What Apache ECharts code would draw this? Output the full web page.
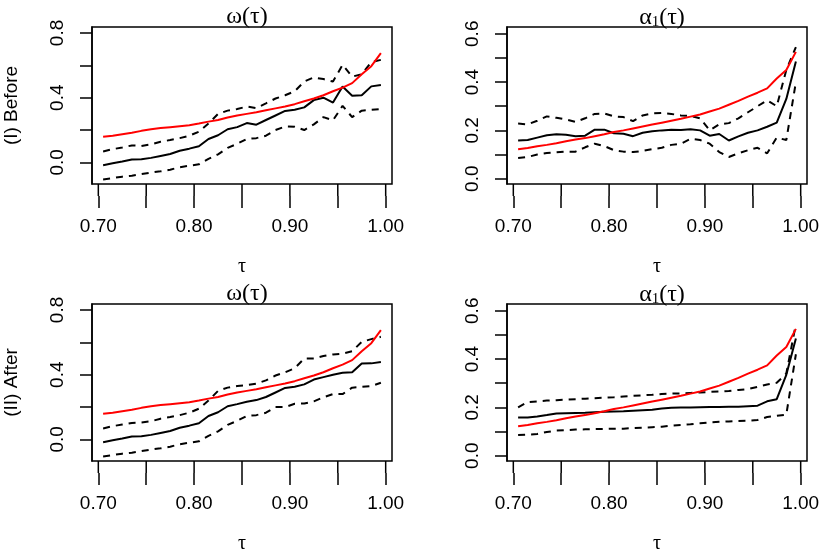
<!DOCTYPE html>
<html>
<head>
<meta charset="utf-8">
<script src="https://cdn.jsdelivr.net/npm/echarts@6.0.0/dist/echarts.min.js"></script>
<style>
  html, body { margin: 0; padding: 0; background: #fff; }
  #main { width: 830px; height: 554px; }
</style>
</head>
<body>
<div id="main"></div>
<script>
// quantile levels
var tau = [0.705, 0.715, 0.725, 0.735, 0.745, 0.755, 0.765, 0.775, 0.785, 0.795,
           0.805, 0.815, 0.825, 0.835, 0.845, 0.855, 0.865, 0.875, 0.885, 0.895,
           0.905, 0.915, 0.925, 0.935, 0.945, 0.955, 0.965, 0.975, 0.985, 0.995];

var xTicks = [0.70, 0.75, 0.80, 0.85, 0.90, 0.95, 1.00];
var xLabels = [0.70, 0.80, 0.90, 1.00];
var omegaTicks = [0, 0.2, 0.4, 0.6, 0.8];
var omegaLabels = [0, 0.4, 0.8];
var alphaTicks = [0, 0.1, 0.2, 0.3, 0.4, 0.5, 0.6];
var alphaLabels = [0, 0.2, 0.4, 0.6];

// omega(tau): red reference curve (same in both rows)
var omegaRef = [0.158, 0.165, 0.174, 0.183, 0.195, 0.205, 0.212, 0.218, 0.224, 0.230,
                0.240, 0.252, 0.262, 0.277, 0.290, 0.300, 0.310, 0.322, 0.334, 0.346,
                0.360, 0.378, 0.395, 0.415, 0.440, 0.462, 0.490, 0.545, 0.595, 0.675];

// (I) Before
var omegaBefore = [-0.017, -0.005, 0.005, 0.018, 0.020, 0.028, 0.040, 0.052, 0.072, 0.085,
                   0.100, 0.145, 0.168, 0.205, 0.218, 0.243, 0.233, 0.262, 0.290, 0.318,
                   0.325, 0.340, 0.385, 0.400, 0.370, 0.469, 0.412, 0.415, 0.470, 0.478];
var omegaBeforeUp = [0.068, 0.082, 0.092, 0.105, 0.102, 0.112, 0.128, 0.138, 0.150, 0.165,
                     0.190, 0.240, 0.300, 0.320, 0.330, 0.345, 0.336, 0.365, 0.395, 0.415,
                     0.440, 0.500, 0.525, 0.515, 0.500, 0.603, 0.530, 0.545, 0.620, 0.634];
var omegaBeforeLo = [-0.105, -0.097, -0.088, -0.082, -0.072, -0.063, -0.055, -0.045, -0.030, -0.020,
                     -0.012, 0.022, 0.050, 0.090, 0.115, 0.145, 0.150, 0.165, 0.200, 0.222,
                     0.220, 0.200, 0.235, 0.280, 0.260, 0.350, 0.280, 0.320, 0.325, 0.330];

// (II) After
var omegaAfter = [-0.017, -0.005, 0.005, 0.018, 0.020, 0.028, 0.040, 0.052, 0.072, 0.085,
                  0.100, 0.145, 0.168, 0.205, 0.218, 0.233, 0.243, 0.262, 0.290, 0.318,
                  0.325, 0.340, 0.370, 0.385, 0.400, 0.412, 0.415, 0.469, 0.470, 0.478];
var omegaAfterUp = [0.068, 0.082, 0.092, 0.102, 0.105, 0.112, 0.128, 0.138, 0.150, 0.165,
                    0.190, 0.240, 0.300, 0.320, 0.330, 0.336, 0.345, 0.365, 0.395, 0.415,
                    0.440, 0.500, 0.500, 0.515, 0.525, 0.530, 0.545, 0.603, 0.620, 0.634];
var omegaAfterLo = [-0.105, -0.097, -0.088, -0.082, -0.072, -0.063, -0.055, -0.045, -0.030, -0.020,
                    -0.012, 0.022, 0.050, 0.090, 0.115, 0.145, 0.150, 0.165, 0.200, 0.200,
                    0.220, 0.222, 0.235, 0.260, 0.280, 0.280, 0.320, 0.325, 0.330, 0.350];

// alpha1(tau): red reference curve
var alphaRef = [0.122, 0.127, 0.134, 0.140, 0.147, 0.155, 0.162, 0.168, 0.176, 0.184,
                0.193, 0.200, 0.208, 0.216, 0.224, 0.232, 0.240, 0.248, 0.257, 0.266,
                0.278, 0.290, 0.306, 0.322, 0.340, 0.356, 0.374, 0.415, 0.450, 0.525];

var alphaBefore = [0.158, 0.160, 0.170, 0.180, 0.184, 0.182, 0.176, 0.178, 0.203, 0.203,
                   0.188, 0.186, 0.176, 0.190, 0.196, 0.200, 0.203, 0.202, 0.205, 0.200,
                   0.178, 0.185, 0.158, 0.175, 0.190, 0.200, 0.215, 0.232, 0.330, 0.485];
var alphaBeforeUp = [0.228, 0.225, 0.240, 0.258, 0.252, 0.245, 0.235, 0.250, 0.268, 0.270,
                     0.258, 0.255, 0.238, 0.262, 0.270, 0.272, 0.268, 0.262, 0.260, 0.250,
                     0.200, 0.225, 0.230, 0.250, 0.275, 0.300, 0.325, 0.300, 0.450, 0.545];
var alphaBeforeLo = [0.086, 0.090, 0.100, 0.106, 0.109, 0.112, 0.112, 0.130, 0.145, 0.135,
                     0.118, 0.112, 0.110, 0.115, 0.122, 0.128, 0.140, 0.145, 0.165, 0.160,
                     0.145, 0.110, 0.090, 0.105, 0.118, 0.128, 0.105, 0.170, 0.160, 0.400];

var alphaAfter = [0.158, 0.158, 0.162, 0.168, 0.175, 0.176, 0.177, 0.178, 0.180, 0.182,
                  0.183, 0.184, 0.186, 0.188, 0.190, 0.195, 0.198, 0.200, 0.200, 0.201,
                  0.202, 0.202, 0.203, 0.203, 0.205, 0.207, 0.225, 0.234, 0.335, 0.485];
var alphaAfterUp = [0.200, 0.222, 0.225, 0.228, 0.230, 0.232, 0.234, 0.236, 0.238, 0.240,
                    0.242, 0.245, 0.248, 0.250, 0.252, 0.255, 0.257, 0.258, 0.260, 0.262,
                    0.264, 0.266, 0.268, 0.272, 0.276, 0.285, 0.295, 0.302, 0.340, 0.545];
var alphaAfterLo = [0.086, 0.087, 0.090, 0.098, 0.104, 0.106, 0.108, 0.109, 0.110, 0.111,
                    0.112, 0.112, 0.114, 0.116, 0.118, 0.120, 0.124, 0.127, 0.130, 0.134,
                    0.138, 0.140, 0.142, 0.144, 0.145, 0.148, 0.160, 0.165, 0.170, 0.420];

function pairs(values) {
  return tau.map(function (t, i) { return [t, values[i]]; });
}

var sansFont = '"Liberation Sans", Arial, sans-serif';
var serifFont = '"Liberation Serif", "DejaVu Serif", serif';
var X_MIN = 0.6934, X_MAX = 1.0066;

// panel layout: two rows, two columns
var panels = [
  { left: 92,  top: 27,  yMin: -0.1335, yMax: 0.837, ticks: omegaTicks, labels: omegaLabels,
    title: 'omega', row: '(I) Before', est: omegaBefore, up: omegaBeforeUp, lo: omegaBeforeLo, ref: omegaRef },
  { left: 507, top: 27,  yMin: -0.022, yMax: 0.628, ticks: alphaTicks, labels: alphaLabels,
    title: 'alpha', row: '', est: alphaBefore, up: alphaBeforeUp, lo: alphaBeforeLo, ref: alphaRef },
  { left: 92,  top: 304, yMin: -0.1335, yMax: 0.837, ticks: omegaTicks, labels: omegaLabels,
    title: 'omega', row: '(II) After', est: omegaAfter, up: omegaAfterUp, lo: omegaAfterLo, ref: omegaRef },
  { left: 507, top: 304, yMin: -0.022, yMax: 0.628, ticks: alphaTicks, labels: alphaLabels,
    title: 'alpha', row: '', est: alphaAfter, up: alphaAfterUp, lo: alphaAfterLo, ref: alphaRef }
];

var W = 300, H = 157, TICK_LEN = 12;
var grids = [], xAxes = [], yAxes = [], series = [], titles = [], texts = [];
var axisStroke = { color: '#000', width: 1.5 };
var n = panels.length;

panels.forEach(function (p, i) {
  // data grid: box, y axis, lines
  grids.push({
    left: p.left, top: p.top, width: W, height: H,
    show: true, borderColor: '#000', borderWidth: 1.5,
    outerBoundsMode: 'none', containLabel: false
  });
  xAxes.push({
    type: 'value', gridIndex: i, min: X_MIN, max: X_MAX,
    axisLine: { show: false, onZero: false },
    axisTick: { show: false }, axisLabel: { show: false }, splitLine: { show: false }
  });
  yAxes.push({
    type: 'value', gridIndex: i, min: p.yMin, max: p.yMax, position: 'left',
    axisLine: { show: true, onZero: false, lineStyle: axisStroke },
    axisTick: { show: true, length: TICK_LEN, customValues: p.ticks, lineStyle: axisStroke },
    axisLabel: {
      customValues: p.labels, rotate: 90, margin: 25, color: '#000', fontFamily: sansFont, fontSize: 19,
      formatter: function (v) { return v.toFixed(1); }
    },
    splitLine: { show: false }
  });

  titles.push({
    text: p.title === 'omega' ? '{a|ω(τ)}' : '{a|α}{s|1}{a|(τ)}',
    left: p.left + W / 2, top: p.top - 27, textAlign: 'center',
    textStyle: {
      fontWeight: 'normal',
      rich: {
        a: { fontFamily: serifFont, fontSize: 24, fontWeight: 'normal', color: '#000', verticalAlign: 'bottom' },
        s: { fontFamily: serifFont, fontSize: 15, fontWeight: 'normal', color: '#000', padding: [10, 0, 0, 0], verticalAlign: 'bottom' }
      }
    }
  });

  if (p.row) {
    texts.push({
      type: 'text', x: 12, y: p.top + H / 2, rotation: Math.PI / 2,
      style: { text: p.row, font: '19px ' + sansFont, fill: '#000', align: 'center', verticalAlign: 'middle' }
    });
  }

  var base = { type: 'line', xAxisIndex: i, yAxisIndex: i, showSymbol: false, silent: true };
  series.push(Object.assign({}, base, { data: pairs(p.up), lineStyle: { color: '#000', width: 2, type: [7, 6] } }));
  series.push(Object.assign({}, base, { data: pairs(p.lo), lineStyle: { color: '#000', width: 2, type: [7, 6] } }));
  series.push(Object.assign({}, base, { data: pairs(p.est), lineStyle: { color: '#000', width: 2 } }));
  series.push(Object.assign({}, base, { data: pairs(p.ref), lineStyle: { color: '#ff0000', width: 2 } }));
});

// overlay grids carrying the tau labels and name
panels.forEach(function (p, i) {
  grids.push({ left: p.left, top: p.top, width: W, height: H, show: false, outerBoundsMode: 'none' });
  xAxes.push({
    type: 'value', gridIndex: n + i, min: X_MIN, max: X_MAX, position: 'bottom',
    name: 'τ', nameLocation: 'middle', nameGap: 73,
    nameTextStyle: { fontFamily: serifFont, fontSize: 20, color: '#000' },
    axisLine: { show: false },
    axisTick: { show: false },
    axisLabel: {
      customValues: xLabels, margin: 33, color: '#000', fontFamily: sansFont, fontSize: 19,
      formatter: function (v) { return v.toFixed(2); }
    },
    splitLine: { show: false }
  });
  yAxes.push({ type: 'value', gridIndex: n + i, min: 0, max: 1, show: false });
});

// thin strips right under each box holding the tau tick marks (ticks point down into the strip)
panels.forEach(function (p, i) {
  var g = 2 * n + i;
  grids.push({ left: p.left, top: p.top + H, width: W, height: TICK_LEN, show: false, outerBoundsMode: 'none' });
  xAxes.push({
    type: 'value', gridIndex: g, min: X_MIN, max: X_MAX, position: 'top',
    zlevel: 1, z: 10,
    axisLine: { show: false },
    axisTick: { show: true, inside: true, length: TICK_LEN, customValues: xTicks, lineStyle: { color: '#000', width: 1.5 } },
    axisLabel: { show: false },
    splitLine: { show: false }
  });
  yAxes.push({ type: 'value', gridIndex: g, min: 0, max: 1, show: false });

  series.push({
    type: 'custom', xAxisIndex: g, yAxisIndex: g, silent: true, clip: false,
    zlevel: 1, z: 20,
    data: xTicks.map(function (v) { return [v, 1]; }),
    encode: { x: 0, y: 1 },
    renderItem: function (params, api) {
      var top = api.coord([api.value(0), 1]);
      var bottom = api.coord([api.value(0), 0]);
      return {
        type: 'line',
        shape: { x1: top[0], y1: top[1], x2: bottom[0], y2: bottom[1] },
        style: { stroke: '#000', lineWidth: 1.5 }
      };
    }
  });
});

var chart = echarts.init(document.getElementById('main'));
chart.setOption({
  animation: false,
  backgroundColor: '#fff',
  title: titles,
  grid: grids,
  xAxis: xAxes,
  yAxis: yAxes,
  series: series,
  graphic: texts
});
</script>
</body>
</html>
